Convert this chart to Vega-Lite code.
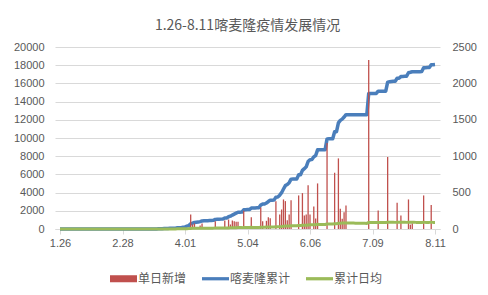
{
 "$schema": "https://vega.github.io/schema/vega-lite/v6.json",
 "width": 385,
 "height": 182,
 "autosize": {"type": "none"},
 "padding": {"left": 55, "top": 47, "right": 48, "bottom": 66},
 "background": "white",
 "title": {"text": "1.26-8.11喀麦隆疫情发展情况", "fontSize": 14, "font": "Noto Sans CJK SC", "fontWeight": "normal", "color": "#595959", "anchor": "middle", "offset": 8},
 "config": {"view": {"stroke": null}, "axis": {"labelFont": "Liberation Sans", "labelFontSize": 11, "labelColor": "#595959", "title": null}},
 "data": {"values": [
{"date":"2020-01-26","new":0,"total":0,"avg":0},{"date":"2020-01-27","new":0,"total":0,"avg":0},{"date":"2020-01-28","new":0,"total":0,"avg":0},{"date":"2020-01-29","new":0,"total":0,"avg":0},{"date":"2020-01-30","new":0,"total":0,"avg":0},{"date":"2020-01-31","new":0,"total":0,"avg":0},
{"date":"2020-02-01","new":0,"total":0,"avg":0},{"date":"2020-02-02","new":0,"total":0,"avg":0},{"date":"2020-02-03","new":0,"total":0,"avg":0},{"date":"2020-02-04","new":0,"total":0,"avg":0},{"date":"2020-02-05","new":0,"total":0,"avg":0},{"date":"2020-02-06","new":0,"total":0,"avg":0},{"date":"2020-02-07","new":0,"total":0,"avg":0},{"date":"2020-02-08","new":0,"total":0,"avg":0},{"date":"2020-02-09","new":0,"total":0,"avg":0},{"date":"2020-02-10","new":0,"total":0,"avg":0},{"date":"2020-02-11","new":0,"total":0,"avg":0},{"date":"2020-02-12","new":0,"total":0,"avg":0},{"date":"2020-02-13","new":0,"total":0,"avg":0},{"date":"2020-02-14","new":0,"total":0,"avg":0},{"date":"2020-02-15","new":0,"total":0,"avg":0},{"date":"2020-02-16","new":0,"total":0,"avg":0},{"date":"2020-02-17","new":0,"total":0,"avg":0},{"date":"2020-02-18","new":0,"total":0,"avg":0},{"date":"2020-02-19","new":0,"total":0,"avg":0},{"date":"2020-02-20","new":0,"total":0,"avg":0},{"date":"2020-02-21","new":0,"total":0,"avg":0},{"date":"2020-02-22","new":0,"total":0,"avg":0},{"date":"2020-02-23","new":0,"total":0,"avg":0},{"date":"2020-02-24","new":0,"total":0,"avg":0},{"date":"2020-02-25","new":0,"total":0,"avg":0},{"date":"2020-02-26","new":0,"total":0,"avg":0},{"date":"2020-02-27","new":0,"total":0,"avg":0},{"date":"2020-02-28","new":0,"total":0,"avg":0},{"date":"2020-02-29","new":0,"total":0,"avg":0},
{"date":"2020-03-01","new":0,"total":0,"avg":0},{"date":"2020-03-02","new":0,"total":0,"avg":0},{"date":"2020-03-03","new":0,"total":0,"avg":0},{"date":"2020-03-04","new":0,"total":0,"avg":0},{"date":"2020-03-05","new":0,"total":0,"avg":0},{"date":"2020-03-06","new":0,"total":1,"avg":0},{"date":"2020-03-07","new":0,"total":2,"avg":0},{"date":"2020-03-08","new":0,"total":2,"avg":0},{"date":"2020-03-09","new":0,"total":2,"avg":0},{"date":"2020-03-10","new":0,"total":2,"avg":0},{"date":"2020-03-11","new":0,"total":2,"avg":0},{"date":"2020-03-12","new":0,"total":2,"avg":0},{"date":"2020-03-13","new":0,"total":4,"avg":0},{"date":"2020-03-14","new":0,"total":5,"avg":0},{"date":"2020-03-15","new":0,"total":10,"avg":0},{"date":"2020-03-16","new":0,"total":10,"avg":0},{"date":"2020-03-17","new":0,"total":13,"avg":0},{"date":"2020-03-18","new":0,"total":20,"avg":0},{"date":"2020-03-19","new":0,"total":27,"avg":0},{"date":"2020-03-20","new":0,"total":40,"avg":1},{"date":"2020-03-21","new":0,"total":56,"avg":1},{"date":"2020-03-22","new":0,"total":56,"avg":1},{"date":"2020-03-23","new":0,"total":66,"avg":1},{"date":"2020-03-24","new":0,"total":72,"avg":1},{"date":"2020-03-25","new":0,"total":75,"avg":1},{"date":"2020-03-26","new":0,"total":88,"avg":1},{"date":"2020-03-27","new":0,"total":91,"avg":1},{"date":"2020-03-28","new":0,"total":139,"avg":2},{"date":"2020-03-29","new":0,"total":142,"avg":2},{"date":"2020-03-30","new":0,"total":142,"avg":2},{"date":"2020-03-31","new":0,"total":193,"avg":3},
{"date":"2020-04-01","new":0,"total":233,"avg":3},{"date":"2020-04-02","new":0,"total":306,"avg":5},{"date":"2020-04-03","new":0,"total":380,"avg":6},{"date":"2020-04-04","new":200,"total":580,"avg":8},{"date":"2020-04-05","new":62,"total":642,"avg":9},{"date":"2020-04-06","new":76,"total":718,"avg":10},{"date":"2020-04-07","new":0,"total":740,"avg":10},{"date":"2020-04-08","new":0,"total":760,"avg":10},{"date":"2020-04-09","new":48,"total":808,"avg":11},{"date":"2020-04-10","new":76,"total":884,"avg":12},{"date":"2020-04-11","new":0,"total":900,"avg":12},{"date":"2020-04-12","new":0,"total":910,"avg":12},{"date":"2020-04-13","new":0,"total":920,"avg":12},{"date":"2020-04-14","new":0,"total":930,"avg":12},{"date":"2020-04-15","new":0,"total":940,"avg":12},{"date":"2020-04-16","new":0,"total":950,"avg":12},{"date":"2020-04-17","new":107,"total":1057,"avg":13},{"date":"2020-04-18","new":0,"total":1065,"avg":13},{"date":"2020-04-19","new":0,"total":1075,"avg":13},{"date":"2020-04-20","new":0,"total":1085,"avg":13},{"date":"2020-04-21","new":0,"total":1095,"avg":13},{"date":"2020-04-22","new":117,"total":1212,"avg":14},{"date":"2020-04-23","new":0,"total":1220,"avg":14},{"date":"2020-04-24","new":130,"total":1350,"avg":15},{"date":"2020-04-25","new":62,"total":1412,"avg":16},{"date":"2020-04-26","new":117,"total":1529,"avg":17},{"date":"2020-04-27","new":107,"total":1636,"avg":18},{"date":"2020-04-28","new":100,"total":1736,"avg":18},{"date":"2020-04-29","new":100,"total":1836,"avg":19},{"date":"2020-04-30","new":0,"total":1850,"avg":19},
{"date":"2020-05-01","new":0,"total":1860,"avg":19},{"date":"2020-05-02","new":250,"total":2110,"avg":22},{"date":"2020-05-03","new":0,"total":2120,"avg":21},{"date":"2020-05-04","new":0,"total":2130,"avg":21},{"date":"2020-05-05","new":0,"total":2140,"avg":21},{"date":"2020-05-06","new":160,"total":2300,"avg":23},{"date":"2020-05-07","new":0,"total":2310,"avg":22},{"date":"2020-05-08","new":0,"total":2320,"avg":22},{"date":"2020-05-09","new":0,"total":2330,"avg":22},{"date":"2020-05-10","new":0,"total":2335,"avg":22},{"date":"2020-05-11","new":296,"total":2630,"avg":25},{"date":"2020-05-12","new":107,"total":2737,"avg":25},{"date":"2020-05-13","new":0,"total":2745,"avg":25},{"date":"2020-05-14","new":112,"total":2857,"avg":26},{"date":"2020-05-15","new":160,"total":3017,"avg":27},{"date":"2020-05-16","new":149,"total":3166,"avg":28},{"date":"2020-05-17","new":0,"total":3170,"avg":28},{"date":"2020-05-18","new":0,"total":3175,"avg":28},{"date":"2020-05-19","new":380,"total":3500,"avg":30},{"date":"2020-05-20","new":0,"total":3520,"avg":30},{"date":"2020-05-21","new":200,"total":3720,"avg":32},{"date":"2020-05-22","new":268,"total":3990,"avg":34},{"date":"2020-05-23","new":406,"total":4390,"avg":37},{"date":"2020-05-24","new":383,"total":4770,"avg":40},{"date":"2020-05-25","new":121,"total":4890,"avg":40},{"date":"2020-05-26","new":200,"total":5090,"avg":42},{"date":"2020-05-27","new":396,"total":5480,"avg":45},{"date":"2020-05-28","new":0,"total":5485,"avg":44},{"date":"2020-05-29","new":0,"total":5490,"avg":44},{"date":"2020-05-30","new":0,"total":5495,"avg":44},{"date":"2020-05-31","new":461,"total":5950,"avg":47},
{"date":"2020-06-01","new":0,"total":5955,"avg":47},{"date":"2020-06-02","new":493,"total":6440,"avg":50},{"date":"2020-06-03","new":186,"total":6630,"avg":51},{"date":"2020-06-04","new":200,"total":6830,"avg":52},{"date":"2020-06-05","new":600,"total":7420,"avg":56},{"date":"2020-06-06","new":200,"total":7620,"avg":57},{"date":"2020-06-07","new":0,"total":7625,"avg":57},{"date":"2020-06-08","new":310,"total":7930,"avg":59},{"date":"2020-06-09","new":144,"total":8070,"avg":59},{"date":"2020-06-10","new":626,"total":8700,"avg":64},{"date":"2020-06-11","new":0,"total":8705,"avg":63},{"date":"2020-06-12","new":0,"total":8710,"avg":63},{"date":"2020-06-13","new":0,"total":8715,"avg":62},{"date":"2020-06-14","new":0,"total":8720,"avg":62},{"date":"2020-06-15","new":1180,"total":9900,"avg":70},{"date":"2020-06-16","new":0,"total":9905,"avg":69},{"date":"2020-06-17","new":0,"total":9910,"avg":69},{"date":"2020-06-18","new":0,"total":9915,"avg":68},{"date":"2020-06-19","new":773,"total":10690,"avg":73},{"date":"2020-06-20","new":0,"total":10695,"avg":73},{"date":"2020-06-21","new":970,"total":11660,"avg":79},{"date":"2020-06-22","new":278,"total":11935,"avg":80},{"date":"2020-06-23","new":140,"total":12075,"avg":81},{"date":"2020-06-24","new":231,"total":12305,"avg":81},{"date":"2020-06-25","new":323,"total":12560,"avg":83},{"date":"2020-06-26","new":0,"total":12560,"avg":82},{"date":"2020-06-27","new":0,"total":12560,"avg":82},{"date":"2020-06-28","new":0,"total":12560,"avg":81},{"date":"2020-06-29","new":0,"total":12560,"avg":81},{"date":"2020-06-30","new":0,"total":12560,"avg":80},
{"date":"2020-07-01","new":0,"total":12560,"avg":79},{"date":"2020-07-02","new":0,"total":12560,"avg":79},{"date":"2020-07-03","new":0,"total":12560,"avg":79},{"date":"2020-07-04","new":0,"total":12560,"avg":78},{"date":"2020-07-05","new":0,"total":12560,"avg":78},{"date":"2020-07-06","new":0,"total":12560,"avg":77},{"date":"2020-07-07","new":2320,"total":14900,"avg":91},{"date":"2020-07-08","new":0,"total":14900,"avg":90},{"date":"2020-07-09","new":0,"total":14900,"avg":90},{"date":"2020-07-10","new":0,"total":14900,"avg":89},{"date":"2020-07-11","new":0,"total":14900,"avg":89},{"date":"2020-07-12","new":254,"total":15150,"avg":90},{"date":"2020-07-13","new":0,"total":15150,"avg":89},{"date":"2020-07-14","new":0,"total":15150,"avg":89},{"date":"2020-07-15","new":0,"total":15150,"avg":88},{"date":"2020-07-16","new":0,"total":15150,"avg":88},{"date":"2020-07-17","new":988,"total":16140,"avg":93},{"date":"2020-07-18","new":0,"total":16170,"avg":92},{"date":"2020-07-19","new":0,"total":16200,"avg":92},{"date":"2020-07-20","new":0,"total":16230,"avg":92},{"date":"2020-07-21","new":0,"total":16240,"avg":91},{"date":"2020-07-22","new":360,"total":16560,"avg":93},{"date":"2020-07-23","new":0,"total":16570,"avg":92},{"date":"2020-07-24","new":186,"total":16750,"avg":93},{"date":"2020-07-25","new":0,"total":16770,"avg":92},{"date":"2020-07-26","new":0,"total":16780,"avg":92},{"date":"2020-07-27","new":0,"total":16790,"avg":91},{"date":"2020-07-28","new":406,"total":17170,"avg":93},{"date":"2020-07-29","new":60,"total":17220,"avg":93},{"date":"2020-07-30","new":80,"total":17280,"avg":92},{"date":"2020-07-31","new":0,"total":17280,"avg":92},
{"date":"2020-08-01","new":0,"total":17280,"avg":91},{"date":"2020-08-02","new":0,"total":17280,"avg":91},{"date":"2020-08-03","new":0,"total":17280,"avg":90},{"date":"2020-08-04","new":0,"total":17300,"avg":90},{"date":"2020-08-05","new":461,"total":17720,"avg":92},{"date":"2020-08-06","new":0,"total":17730,"avg":91},{"date":"2020-08-07","new":0,"total":17740,"avg":91},{"date":"2020-08-08","new":0,"total":17750,"avg":91},{"date":"2020-08-09","new":328,"total":18040,"avg":92},{"date":"2020-08-10","new":0,"total":18060,"avg":91},{"date":"2020-08-11","new":0,"total":18080,"avg":91}
 ]},
 "encoding": {
  "x": {"field": "date", "type": "temporal",
   "scale": {"type": "utc", "domain": [{"year": 2020, "month": 1, "date": 26, "utc": true}, {"year": 2020, "month": 8, "date": 11, "utc": true}]},
   "axis": {"values": [{"year": 2020, "month": 1, "date": 26, "utc": true}, {"year": 2020, "month": 2, "date": 28, "utc": true}, {"year": 2020, "month": 4, "date": 1, "utc": true}, {"year": 2020, "month": 5, "date": 4, "utc": true}, {"year": 2020, "month": 6, "date": 6, "utc": true}, {"year": 2020, "month": 7, "date": 9, "utc": true}, {"year": 2020, "month": 8, "date": 11, "utc": true}],
    "format": "%-m.%d", "grid": false, "domain": true, "domainColor": "#d9d9d9", "ticks": true, "tickColor": "#d9d9d9", "tickSize": 5, "labelPadding": 3, "labelFlush": false, "labelOverlap": false}}
 },
 "layer": [
  {"mark": {"type": "line", "strokeWidth": 3.5, "strokeJoin": "round"},
   "encoding": {
    "y": {"field": "total", "type": "quantitative", "scale": {"domain": [0, 20000]},
     "axis": {"orient": "left", "values": [0,2000,4000,6000,8000,10000,12000,14000,16000,18000,20000], "format": "d", "grid": true, "gridColor": "#d9d9d9", "domain": false, "ticks": false, "labelPadding": 11}},
    "color": {"datum": "喀麦隆累计", "type": "nominal",
     "scale": {"domain": ["单日新增", "喀麦隆累计", "累计日均"], "range": ["#C0504D", "#4A7EBB", "#9BBB59"]},
     "legend": {"orient": "none", "legendX": 55, "legendY": 218, "direction": "horizontal", "title": null,
      "symbolType": "M-1,-0.26L1,-0.26L1,0.26L-1,0.26Z", "symbolSize": 729, "symbolStrokeWidth": 0, "labelFontSize": 12, "labelColor": "#595959", "labelFont": "Noto Sans CJK SC",
      "columnPadding": 15, "labelOffset": 1, "padding": 0,
      "encode": {"symbols": {"update": {
        "shape": {"signal": "datum.value === '单日新增' ? 'M-1,-0.26L1,-0.26L1,0.26L-1,0.26Z' : 'M-1,-0.12L1,-0.12L1,0.12L-1,0.12Z'"},
        "fill": {"scale": "color", "field": "value"}, "stroke": {"value": "transparent"}, "strokeWidth": {"value": 0}, "opacity": {"value": 1}, "fillOpacity": {"value": 1}}}}}}
   }},
  {"mark": {"type": "bar", "width": 1.3},
   "encoding": {
    "y": {"field": "new", "type": "quantitative", "scale": {"domain": [0, 2500]},
     "axis": {"orient": "right", "values": [0,500,1000,1500,2000,2500], "format": "d", "grid": false, "domain": false, "ticks": false, "labelPadding": 12}},
    "color": {"datum": "单日新增", "type": "nominal"}
   }},
  {"mark": {"type": "line", "strokeWidth": 3, "strokeJoin": "round"},
   "encoding": {
    "y": {"field": "avg", "type": "quantitative", "scale": {"domain": [0, 2500]}, "axis": null},
    "color": {"datum": "累计日均", "type": "nominal"}
   }}
 ],
 "resolve": {"scale": {"y": "independent", "color": "shared"}}
}
